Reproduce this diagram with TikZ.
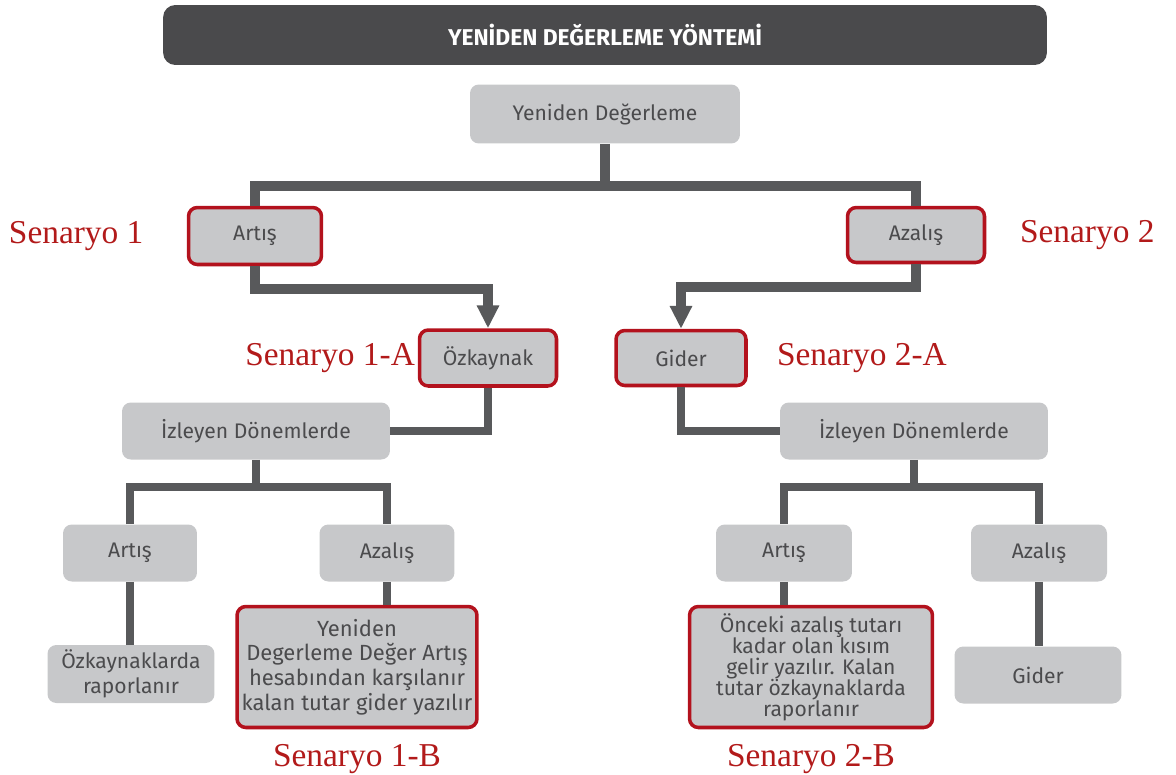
\documentclass[tikz,border=0pt]{standalone}
\usepackage{fontspec}
\setmainfont{Fira Sans}
\newfontfamily\scenfont{Liberation Serif}
\usepackage{xcolor}
\usetikzlibrary{positioning,arrows.meta}
\definecolor{boxgray}{HTML}{C7C8CA}
\definecolor{linegray}{HTML}{58595B}
\definecolor{textgray}{HTML}{4B4B4D}
\definecolor{titlegray}{HTML}{4A4A4C}
\definecolor{framered}{HTML}{B3121D}
\definecolor{scenred}{HTML}{B21A1A}

\begin{document}
\begin{tikzpicture}[
    x=0.02cm, y=-0.02cm,
    box/.style={rectangle, rounded corners=5pt, fill=boxgray, text=textgray, inner sep=2pt, align=center, font=\fontsize{12}{14}\selectfont},
    redbox/.style={box, draw=framered, line width=2pt},
    titlebar/.style={rectangle, rounded corners=7pt, fill=titlegray, text=white, minimum width=17.68cm, minimum height=1.2cm, font=\bfseries\fontsize{13}{15}\selectfont},
    link/.style={draw=linegray, line width=5pt},
    arr/.style={link, -{Triangle[width=12pt,length=13pt]}},
    scen/.style={text=scenred, inner sep=0pt, font=\scenfont\fontsize{19}{22}\selectfont}
]
\useasboundingbox (0,0) rectangle (1176,774);

% Title and root
\node[titlebar] (title) at (605,35) {YENİDEN DEĞERLEME YÖNTEMİ};
\node[box, minimum width=5.4cm, minimum height=1.18cm] (root) at (605,114) {Yeniden Değerleme};

% First level
\node[redbox, minimum width=2.66cm, minimum height=1.14cm] (art1) at (255,236) {Artış};
\node[redbox, minimum width=2.74cm, minimum height=1.1cm] (azl1) at (916,235) {Azalış};
\node[redbox, minimum width=2.74cm, minimum height=1.12cm] (ozk) at (488,358) {Özkaynak};
\node[redbox, minimum width=2.6cm, minimum height=1.1cm] (gid) at (681,358) {Gider};

% Following periods
\node[box, minimum width=5.36cm, minimum height=1.14cm] (izl1) at (256,431) {İzleyen Dönemlerde};
\node[box, minimum width=5.36cm, minimum height=1.14cm] (izl2) at (914,431) {İzleyen Dönemlerde};

% Left branch
\node[box, minimum width=2.68cm, minimum height=1.14cm] (art2) at (130,553) {Artış};
\node[box, minimum width=2.7cm, minimum height=1.14cm] (azl2) at (387,553) {Azalış};
\node[box, minimum width=3.34cm, minimum height=1.16cm] (ozr) at (131,674) {Özkaynaklarda\\raporlanır};
\node[redbox, minimum width=4.8cm, minimum height=2.42cm, font=\fontsize{12.5}{14}\selectfont] (yen) at (357,667)
    {Yeniden\\Degerleme Değer Artış\\hesabından karşılanır\\kalan tutar gider yazılır};

% Right branch
\node[box, minimum width=2.72cm, minimum height=1.14cm] (art3) at (784,553) {Artış};
\node[box, minimum width=2.72cm, minimum height=1.14cm] (azl3) at (1039,553) {Azalış};
\node[redbox, minimum width=4.86cm, minimum height=2.42cm, font=\fontsize{12}{12}\selectfont] (onc) at (811,667)
    {Önceki azalış tutarı\\kadar olan kısım\\gelir yazılır. Kalan\\tutar özkaynaklarda\\raporlanır};
\node[box, minimum width=3.34cm, minimum height=1.14cm] (gid2) at (1038,675) {Gider};

% Scenario labels
\node[scen, left=0.86cm of art1] (s1) {Senaryo 1};
\node[scen, right=0.67cm of azl1] (s2) {Senaryo 2};
\node[scen, left=0.05cm of ozk] (s1a) {Senaryo 1-A};
\node[scen, right=0.58cm of gid] (s2a) {Senaryo 2-A};
\node[scen, below=0.3cm of yen] (s1b) {Senaryo 1-B};
\node[scen, below=0.3cm of onc] (s2b) {Senaryo 2-B};

% Connectors
\coordinate (split) at (605,186);
\coordinate (bend1) at (488,289);
\coordinate (bend2) at (681,287);
\coordinate (split2) at (256,487);
\coordinate (split3) at (914,487);
\draw[link, line width=6pt] (root) -- (split);
\draw[link, line width=6pt] (art1) |- (split) -| (azl1);
\draw[arr, line width=6pt] (art1) |- (bend1) -- (ozk);
\draw[arr, line width=6pt] (azl1) |- (bend2) -- (gid);
\draw[link] (ozk) |- (izl1);
\draw[link] (gid) |- (izl2);
\draw[link] (izl1) -- (split2);
\draw[link] (art2) |- (split2) -| (azl2);
\draw[link] (izl2) -- (split3);
\draw[link] (art3) |- (split3) -| (azl3);
\draw[link] (art2.south) -- (art2.south |- ozr.north);
\draw[link] (azl2.south) -- (azl2.south |- yen.north);
\draw[link] (art3.south) -- (art3.south |- onc.north);
\draw[link] (azl3.south) -- (azl3.south |- gid2.north);

\end{tikzpicture}
\end{document}
